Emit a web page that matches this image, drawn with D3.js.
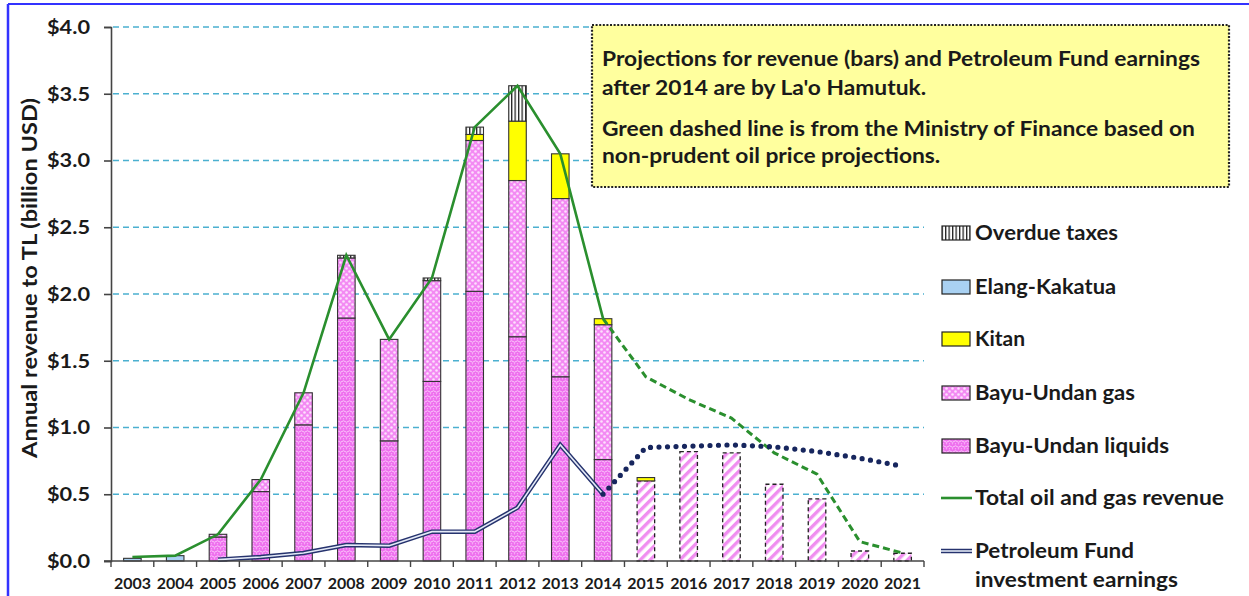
<!DOCTYPE html>
<html><head><meta charset="utf-8">
<script src="https://cdn.jsdelivr.net/npm/d3@7"></script>
<style>
html,body{margin:0;padding:0;background:#fff;}
text{font-family:Lato,"Open Sans",sans-serif;font-weight:bold;fill:#1a1a1a;}
</style></head>
<body>
<svg id="chart" width="1249" height="596"></svg>
<script>
// ---- data ----
const years = ["2003","2004","2005","2006","2007","2008","2009","2010","2011","2012","2013","2014","2015","2016","2017","2018","2019","2020","2021"];
const buLiquids = [0,0,0.18,0.52,1.02,1.82,0.90,1.345,2.02,1.68,1.38,0.76,0,0,0,0,0,0,0];
const buGas     = [0,0,0.02,0.09,0.24,0.45,0.76,0.755,1.13,1.17,1.335,1.01,0,0,0,0,0,0,0];
const kitan     = [0,0,0,0,0,0,0,0,0.045,0.445,0.335,0.045,0.025,0,0,0,0,0,0];
const elang     = [0.02,0.04,0,0,0,0,0,0,0,0,0,0,0,0,0,0,0,0,0];
const overdue   = [0,0,0,0,0,0.02,0,0.02,0.055,0.265,0,0,0,0,0,0,0,0,0];
const projected = [0,0,0,0,0,0,0,0,0,0,0,0,0.60,0.82,0.81,0.575,0.465,0.075,0.058];
const totalYears = ["2003","2004","2005","2006","2007","2008","2009","2010","2011","2012","2013","2014"];
const totalRevenue = [0.03,0.04,0.20,0.61,1.26,2.29,1.66,2.12,3.25,3.56,3.05,1.815];
const mofYears = ["2014","2015","2016","2017","2018","2019","2020","2021"];
const mofRevenue = [1.815,1.38,1.21,1.07,0.81,0.65,0.145,0.06];
const pfYears = ["2005","2006","2007","2008","2009","2010","2011","2012","2013","2014"];
const pfEarnings = [0.01,0.03,0.06,0.12,0.115,0.22,0.22,0.40,0.87,0.50];
const pfProjYears = ["2014","2015","2016","2017","2018","2019","2020","2021"];
const pfProjected = [0.50,0.85,0.86,0.87,0.855,0.82,0.77,0.71];
const yTicks = [0,0.5,1,1.5,2,2.5,3,3.5,4];
const legendItems = ["Overdue taxes","Elang-Kakatua","Kitan","Bayu-Undan gas","Bayu-Undan liquids","Total oil and gas revenue","Petroleum Fund","investment earnings"];
const noteLines = ["Projections for revenue (bars) and Petroleum Fund earnings","after 2014 are by La'o Hamutuk.","Green dashed line is from the Ministry of Finance based on","non-prudent oil price projections."];

// ---- setup ----
const svg = d3.select("#chart");
const W = 1249, H = 596;
const x = d3.scaleBand().domain(years).range([111, 924]).paddingInner(0.59).paddingOuter(0.295);
const xb = d3.scaleBand().domain(years).range([111, 924]);
const y = d3.scaleLinear().domain([0, 4]).range([561, 27]);
const cx = d => xb(d) + xb.bandwidth() / 2;

function stretch(sel, target) {
  sel.attr("textLength", target).attr("lengthAdjust", "spacingAndGlyphs");
}

// patterns
const defs = svg.append("defs");
const pL = defs.append("pattern").attr("id","pLiq").attr("patternUnits","userSpaceOnUse").attr("width",6).attr("height",5);
pL.append("rect").attr("width",6).attr("height",5).attr("fill","#ee6fee");
pL.append("path").attr("d","M0,1.5 Q1.5,0 3,1.5 T6,1.5").attr("stroke","#fbc6fb").attr("stroke-width",1).attr("fill","none");
pL.append("circle").attr("cx",1.5).attr("cy",3.8).attr("r",0.7).attr("fill","#f9b0f9");
pL.append("circle").attr("cx",4.5).attr("cy",3.8).attr("r",0.7).attr("fill","#f9b0f9");
const pG = defs.append("pattern").attr("id","pGas").attr("patternUnits","userSpaceOnUse").attr("width",6).attr("height",6);
pG.append("rect").attr("width",6).attr("height",6).attr("fill","#f38af3");
pG.append("circle").attr("cx",1.5).attr("cy",1.5).attr("r",1.3).attr("fill","#fde0fd");
pG.append("circle").attr("cx",4.5).attr("cy",4.5).attr("r",1.3).attr("fill","#fde0fd");
const pP = defs.append("pattern").attr("id","pProj").attr("patternUnits","userSpaceOnUse").attr("width",7).attr("height",7).attr("patternTransform","rotate(-45)");
pP.append("rect").attr("width",7).attr("height",7).attr("fill","#ffffff");
pP.append("rect").attr("width",7).attr("height",3.4).attr("fill","#f08ef0");
const pO = defs.append("pattern").attr("id","pOver").attr("patternUnits","userSpaceOnUse").attr("width",3.5).attr("height",4);
pO.append("rect").attr("width",3.5).attr("height",4).attr("fill","#ffffff");
pO.append("rect").attr("width",1.3).attr("height",4).attr("fill","#222");

// blue frame
svg.append("line").attr("x1",8).attr("x2",W).attr("y1",4).attr("y2",4).attr("stroke","#3333ff").attr("stroke-width",2);
svg.append("line").attr("x1",8).attr("x2",8).attr("y1",4).attr("y2",H).attr("stroke","#3333ff").attr("stroke-width",2.5);

// gridlines
svg.append("g").selectAll("line").data(yTicks.filter(d => d > 0)).join("line")
  .attr("x1",113).attr("x2",924).attr("y1",d => y(d)).attr("y2",d => y(d))
  .attr("stroke","#4bb0d0").attr("stroke-width",1.3).attr("stroke-dasharray","6,4");

// stacked bars
const layers = [
  {vals: elang, fill: "#a9d1f2"},
  {vals: buLiquids, fill: "url(#pLiq)"},
  {vals: buGas, fill: "url(#pGas)"},
  {vals: kitan, fill: "#ffff00"},
  {vals: overdue, fill: "url(#pOver)"}
];
const barG = svg.append("g");
years.forEach((yr, i) => {
  let base = 0;
  if (projected[i] > 0) {
    barG.append("rect").attr("x", x(yr)).attr("width", x.bandwidth())
      .attr("y", y(projected[i])).attr("height", y(0) - y(projected[i]))
      .attr("fill","url(#pProj)").attr("stroke","#222").attr("stroke-width",1.3).attr("stroke-dasharray","4,3");
    base = projected[i];
  }
  layers.forEach(L => {
    const v = L.vals[i];
    if (v > 0) {
      barG.append("rect").attr("x", x(yr)).attr("width", x.bandwidth())
        .attr("y", y(base + v)).attr("height", y(base) - y(base + v))
        .attr("fill", L.fill).attr("stroke","#333").attr("stroke-width",1.1);
      base += v;
    }
  });
});

// lines
const lineGen = d3.line().x(d => cx(d[0])).y(d => y(d[1]));
svg.append("path").datum(totalYears.map((d,i)=>[d,totalRevenue[i]])).attr("d", lineGen)
  .attr("fill","none").attr("stroke","#2a8f2e").attr("stroke-width",2.6);
svg.append("path").datum(mofYears.map((d,i)=>[d,mofRevenue[i]])).attr("d", lineGen)
  .attr("fill","none").attr("stroke","#2a8f2e").attr("stroke-width",3).attr("stroke-dasharray","7,4");
const pfData = pfYears.map((d,i)=>[d,pfEarnings[i]]);
svg.append("path").datum(pfData).attr("d", lineGen).attr("fill","none").attr("stroke","#26336e").attr("stroke-width",4.5);
svg.append("path").datum(pfData).attr("d", lineGen).attr("fill","none").attr("stroke","#e4eaf7").attr("stroke-width",1.6);
svg.append("path").datum(pfProjYears.map((d,i)=>[d,pfProjected[i]])).attr("d", lineGen)
  .attr("fill","none").attr("stroke","#17265e").attr("stroke-width",5.2).attr("stroke-linecap","round").attr("stroke-dasharray","0,8.5");

// axes
const yAxis = svg.append("g").attr("transform","translate(111,0)")
  .call(d3.axisLeft(y).tickValues(yTicks).tickSize(7).tickFormat(d => "$" + d.toFixed(1)));
yAxis.select(".domain").attr("stroke","#444").attr("stroke-width",1.6);
yAxis.selectAll(".tick line").attr("stroke","#444").attr("stroke-width",1.6);
yAxis.selectAll("text").attr("font-size",19.5).attr("x",-21).attr("fill","#1a1a1a")
  .attr("font-family","Lato").attr("font-weight","bold")
  .attr("textLength",43).attr("lengthAdjust","spacingAndGlyphs");
const xAxisG = svg.append("g").attr("transform","translate(0,561)");
xAxisG.append("line").attr("x1",104).attr("x2",924).attr("stroke","#444").attr("stroke-width",1.6);
xAxisG.selectAll("line.t").data(years.concat(["end"])).join("line").attr("class","t")
  .attr("x1",(d,i)=> 111 + i*xb.bandwidth()).attr("x2",(d,i)=> 111 + i*xb.bandwidth())
  .attr("y1",0).attr("y2",6).attr("stroke","#444").attr("stroke-width",1.4);
xAxisG.selectAll("text").data(years).join("text").attr("x", d => cx(d)).attr("y", 28)
  .attr("text-anchor","middle").attr("font-size",16).text(d => d)
  .attr("textLength",37).attr("lengthAdjust","spacingAndGlyphs");

// y title
svg.append("text").attr("transform","translate(37,278) rotate(-90)").attr("text-anchor","middle")
  .attr("font-size",20).text("Annual revenue to TL (billion USD)")
  .attr("textLength",360).attr("lengthAdjust","spacingAndGlyphs");

// note box
svg.append("rect").attr("x",592).attr("y",25).attr("width",637).attr("height",162)
  .attr("fill","#ffff9e").attr("stroke","#222").attr("stroke-width",2.2).attr("stroke-dasharray","2,1.6");
const noteY = [66, 95, 136, 163];
const noteTexts = noteLines.map((t,i) =>
  svg.append("text").attr("x",602).attr("y",noteY[i]).attr("font-size",20).text(t));
const noteFactor = 598 / noteTexts[0].node().getComputedTextLength();
noteTexts.forEach(s => stretch(s, s.node().getComputedTextLength() * noteFactor));

// legend
const lg = svg.append("g");
const ly = [233, 287, 339, 393, 446, 498, 551, 580];
const legendWidths = [143, 141, 50, 160, 194, 249, 159, 203];
const swatchFill = ["url(#pOver)","#a9d1f2","#ffff00","url(#pGas)","url(#pLiq)"];
for (let i = 0; i < 5; i++) {
  lg.append("rect").attr("x",942).attr("y",ly[i]-7).attr("width",28).attr("height",14)
    .attr("fill",swatchFill[i]).attr("stroke","#222").attr("stroke-width",1.2);
}
lg.append("line").attr("x1",941).attr("x2",972).attr("y1",ly[5]).attr("y2",ly[5]).attr("stroke","#2a8f2e").attr("stroke-width",2.6);
lg.append("line").attr("x1",941).attr("x2",972).attr("y1",ly[6]).attr("y2",ly[6]).attr("stroke","#26336e").attr("stroke-width",4.5);
lg.append("line").attr("x1",941).attr("x2",972).attr("y1",ly[6]).attr("y2",ly[6]).attr("stroke","#e4eaf7").attr("stroke-width",1.6);
legendItems.forEach((t,i) => {
  const s = lg.append("text").attr("x",975).attr("y",ly[i]).attr("dy","0.36em").attr("font-size",20.5).text(t);
  stretch(s, legendWidths[i]);
});
</script>
</body></html>
